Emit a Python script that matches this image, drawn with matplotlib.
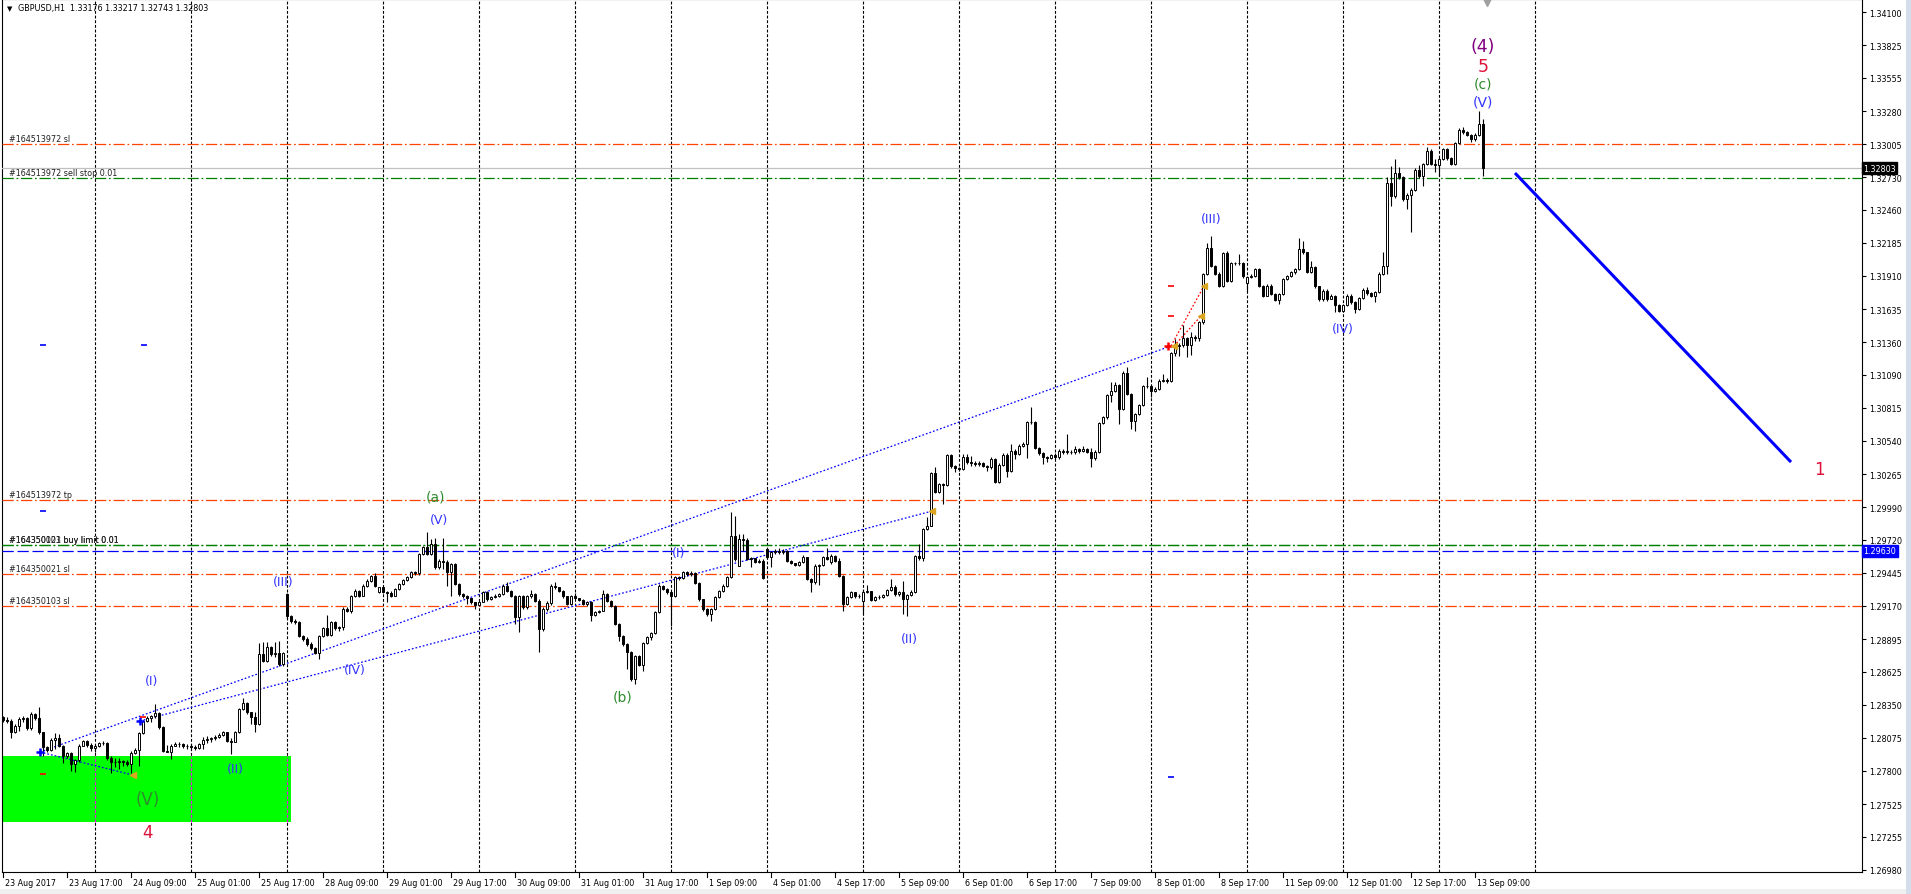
import numpy as np
import pandas as pd
import matplotlib
matplotlib.use("Agg")
import matplotlib.pyplot as plt
import matplotlib.transforms as mtransforms
from matplotlib.patches import Rectangle

# GBPUSD H1 bars, 23 Aug 2017 01:00 .. 13 Sep 2017 10:00
closes = [
    1.28226, 1.28217, 1.28121, 1.28170, 1.28231, 1.28237, 1.28154, 1.28276, 1.28237, 1.28121,
    1.27996, 1.27976, 1.28060, 1.28071, 1.28010, 1.27927, 1.27949, 1.27858, 1.27888, 1.28010,
    1.28051, 1.28016, 1.27988, 1.28004, 1.28029, 1.28032, 1.27905, 1.27872, 1.27877, 1.27883,
    1.27872, 1.27861, 1.27949, 1.27976, 1.28115, 1.28212, 1.28237, 1.28253, 1.28278, 1.28162,
    1.27968, 1.27960, 1.28010, 1.28024, 1.28021, 1.28010, 1.28004, 1.27999, 1.27993, 1.28021,
    1.28057, 1.28065, 1.28071, 1.28079, 1.28101, 1.28121, 1.28051, 1.28043, 1.28121, 1.28314,
    1.28361, 1.28287, 1.28245, 1.28190, 1.28771, 1.28716, 1.28826, 1.28771, 1.28779, 1.28688,
    1.28779, 1.29089, 1.29048, 1.29039, 1.28923, 1.28895, 1.28854, 1.28818, 1.28779, 1.28918,
    1.28984, 1.28929, 1.29039, 1.28984, 1.28992, 1.29144, 1.29131, 1.29250, 1.29294, 1.29255,
    1.29333, 1.29377, 1.29421, 1.29338, 1.29324, 1.29288, 1.29277, 1.29255, 1.29311, 1.29352,
    1.29388, 1.29407, 1.29449, 1.29444, 1.29601, 1.29656, 1.29601, 1.29684, 1.29491, 1.29546,
    1.29538, 1.29449, 1.29518, 1.29352, 1.29269, 1.29250, 1.29233, 1.29200, 1.29178, 1.29205,
    1.29283, 1.29227, 1.29244, 1.29255, 1.29269, 1.29338, 1.29297, 1.29255, 1.29075, 1.29255,
    1.29158, 1.29255, 1.29269, 1.29214, 1.28978, 1.29144, 1.29194, 1.29338, 1.29324, 1.29297,
    1.29250, 1.29186, 1.29255, 1.29233, 1.29222, 1.29186, 1.29200, 1.29095, 1.29117, 1.29131,
    1.29269, 1.29214, 1.29172, 1.29020, 1.28923, 1.28854, 1.28790, 1.28563, 1.28751, 1.28680,
    1.28862, 1.28909, 1.28945, 1.29117, 1.29338, 1.29311, 1.29283, 1.29255, 1.29407, 1.29399,
    1.29449, 1.29435, 1.29444, 1.29360, 1.29227, 1.29144, 1.29103, 1.29144, 1.29241, 1.29297,
    1.29338, 1.29407, 1.29748, 1.29560, 1.29726, 1.29720, 1.29560, 1.29565, 1.29538, 1.29546,
    1.29399, 1.29574, 1.29615, 1.29629, 1.29615, 1.29629, 1.29546, 1.29526, 1.29513, 1.29532,
    1.29574, 1.29394, 1.29366, 1.29504, 1.29510, 1.29574, 1.29560, 1.29582, 1.29546, 1.29421,
    1.29186, 1.29241, 1.29283, 1.29250, 1.29255, 1.29288, 1.29291, 1.29222, 1.29241, 1.29247,
    1.29261, 1.29302, 1.29324, 1.29269, 1.29283, 1.29227, 1.29261, 1.29288, 1.29582, 1.29565,
    1.29809, 1.29836, 1.30274, 1.30119, 1.30182, 1.30177, 1.30423, 1.30329, 1.30313, 1.30307,
    1.30404, 1.30362, 1.30357, 1.30349, 1.30357, 1.30335, 1.30321, 1.30390, 1.30196, 1.30340,
    1.30423, 1.30293, 1.30459, 1.30432, 1.30501, 1.30515, 1.30700, 1.30695, 1.30479, 1.30440,
    1.30404, 1.30398, 1.30423, 1.30404, 1.30459, 1.30451, 1.30451, 1.30445, 1.30473, 1.30459,
    1.30473, 1.30451, 1.30396, 1.30451, 1.30689, 1.30736, 1.30921, 1.30957, 1.31005, 1.30805,
    1.31104, 1.30930, 1.30708, 1.30764, 1.30838, 1.30993, 1.30999, 1.30957, 1.30971, 1.31041,
    1.31049, 1.31041, 1.31270, 1.31326, 1.31337, 1.31392, 1.31337, 1.31400, 1.31395, 1.31525,
    1.31926, 1.32139, 1.31996, 1.31926, 1.31829, 1.32101, 1.31871, 1.32018, 1.32018, 1.32018,
    1.31907, 1.31899, 1.31913, 1.31968, 1.31829, 1.31746, 1.31829, 1.31760, 1.31713, 1.31760,
    1.31885, 1.31907, 1.31940, 1.31968, 1.32134, 1.32106, 1.31946, 1.31982, 1.31824, 1.31719,
    1.31788, 1.31719, 1.31741, 1.31669, 1.31622, 1.31669, 1.31746, 1.31691, 1.31636, 1.31724,
    1.31796, 1.31769, 1.31746, 1.31774, 1.31926, 1.31990, 1.32682, 1.32577, 1.32765, 1.32729,
    1.32549, 1.32582, 1.32627, 1.32793, 1.32737, 1.32840, 1.32950, 1.32840, 1.32831, 1.32881,
    1.32964, 1.32887, 1.32840, 1.33014, 1.33125, 1.33103, 1.33080, 1.33047, 1.33080, 1.33176,
    1.32803,
]
highs = [
    1.28259, 1.28245, 1.28231, 1.28190, 1.28245, 1.28253, 1.28245, 1.28287, 1.28281, 1.28328,
    1.28126, 1.28010, 1.28071, 1.28115, 1.28107, 1.28016, 1.27960, 1.27955, 1.27899, 1.28021,
    1.28060, 1.28060, 1.28032, 1.28021, 1.28043, 1.28051, 1.28043, 1.27921, 1.27905, 1.27905,
    1.27894, 1.27894, 1.27968, 1.27988, 1.28126, 1.28226, 1.28253, 1.28265, 1.28356, 1.28287,
    1.28170, 1.28016, 1.28024, 1.28043, 1.28043, 1.28032, 1.28021, 1.28021, 1.28016, 1.28032,
    1.28079, 1.28087, 1.28084, 1.28098, 1.28115, 1.28134, 1.28126, 1.28071, 1.28134, 1.28325,
    1.28403, 1.28370, 1.28292, 1.28292, 1.28862, 1.28868, 1.28868, 1.28840, 1.28873, 1.28881,
    1.28790, 1.29277, 1.29095, 1.29061, 1.29048, 1.28929, 1.28909, 1.28868, 1.28826, 1.28929,
    1.28992, 1.29095, 1.29048, 1.29048, 1.29006, 1.29158, 1.29158, 1.29261, 1.29311, 1.29305,
    1.29352, 1.29394, 1.29427, 1.29440, 1.29330, 1.29330, 1.29295, 1.29295, 1.29316, 1.29360,
    1.29395, 1.29420, 1.29460, 1.29460, 1.29610, 1.29665, 1.29781, 1.29726, 1.29731, 1.29560,
    1.29731, 1.29550, 1.29530, 1.29530, 1.29360, 1.29275, 1.29260, 1.29240, 1.29205, 1.29215,
    1.29295, 1.29295, 1.29255, 1.29270, 1.29280, 1.29350, 1.29366, 1.29300, 1.29260, 1.29265,
    1.29265, 1.29265, 1.29300, 1.29280, 1.29225, 1.29160, 1.29210, 1.29352, 1.29366, 1.29330,
    1.29300, 1.29255, 1.29265, 1.29280, 1.29240, 1.29230, 1.29215, 1.29210, 1.29125, 1.29140,
    1.29305, 1.29275, 1.29220, 1.29175, 1.29025, 1.28930, 1.28860, 1.28795, 1.28760, 1.28760,
    1.28870, 1.28920, 1.28955, 1.29130, 1.29350, 1.29345, 1.29316, 1.29290, 1.29420, 1.29415,
    1.29463, 1.29460, 1.29460, 1.29455, 1.29365, 1.29230, 1.29150, 1.29155, 1.29250, 1.29305,
    1.29350, 1.29420, 1.29947, 1.29914, 1.29767, 1.29767, 1.29731, 1.29575, 1.29570, 1.29560,
    1.29560, 1.29655, 1.29625, 1.29645, 1.29650, 1.29640, 1.29635, 1.29550, 1.29530, 1.29540,
    1.29590, 1.29580, 1.29400, 1.29518, 1.29520, 1.29585, 1.29648, 1.29600, 1.29590, 1.29570,
    1.29425, 1.29250, 1.29295, 1.29290, 1.29270, 1.29300, 1.29344, 1.29295, 1.29255, 1.29260,
    1.29270, 1.29315, 1.29394, 1.29340, 1.29295, 1.29380, 1.29270, 1.29300, 1.29595, 1.29684,
    1.29820, 1.29906, 1.30285, 1.30321, 1.30195, 1.30195, 1.30432, 1.30432, 1.30340, 1.30325,
    1.30432, 1.30432, 1.30412, 1.30375, 1.30375, 1.30365, 1.30340, 1.30405, 1.30400, 1.30355,
    1.30440, 1.30440, 1.30515, 1.30470, 1.30515, 1.30530, 1.30710, 1.30819, 1.30710, 1.30490,
    1.30450, 1.30415, 1.30435, 1.30440, 1.30470, 1.30470, 1.30598, 1.30465, 1.30501, 1.30480,
    1.30495, 1.30485, 1.30480, 1.30465, 1.30700, 1.30745, 1.30932, 1.31032, 1.31032, 1.31015,
    1.31124, 1.31151, 1.30935, 1.30775, 1.30850, 1.31005, 1.31068, 1.31005, 1.30985, 1.31055,
    1.31096, 1.31060, 1.31280, 1.31387, 1.31350, 1.31503, 1.31400, 1.31442, 1.31420, 1.31535,
    1.31935, 1.32184, 1.32245, 1.32000, 1.31940, 1.32112, 1.32115, 1.32030, 1.32030, 1.32093,
    1.32030, 1.31910, 1.31925, 1.31980, 1.31980, 1.31835, 1.31840, 1.31840, 1.31770, 1.31770,
    1.31895, 1.31920, 1.31950, 1.31980, 1.32222, 1.32203, 1.32110, 1.32037, 1.31995, 1.31830,
    1.31800, 1.31800, 1.31760, 1.31750, 1.31675, 1.31680, 1.31760, 1.31760, 1.31700, 1.31735,
    1.31810, 1.31816, 1.31775, 1.31785, 1.31940, 1.32106, 1.32729, 1.32826, 1.32881, 1.32812,
    1.32740, 1.32595, 1.32640, 1.32805, 1.32831, 1.32850, 1.32978, 1.32965, 1.32881, 1.32895,
    1.32975, 1.32975, 1.32895, 1.33025, 1.33135, 1.33144, 1.33110, 1.33085, 1.33095, 1.33283,
    1.33217,
]
lows = [
    1.28204, 1.28198, 1.28071, 1.28115, 1.28134, 1.28204, 1.28143, 1.28143, 1.28226, 1.28107,
    1.27927, 1.27955, 1.27968, 1.27982, 1.27996, 1.27866, 1.27905, 1.27802, 1.27794, 1.27872,
    1.28004, 1.28001, 1.27968, 1.27960, 1.27996, 1.28016, 1.27894, 1.27783, 1.27830, 1.27816,
    1.27844, 1.27844, 1.27783, 1.27940, 1.27838, 1.28107, 1.28204, 1.28209, 1.28237, 1.28148,
    1.27955, 1.27955, 1.27899, 1.28004, 1.27999, 1.27988, 1.27982, 1.27982, 1.27976, 1.27982,
    1.27982, 1.28032, 1.28043, 1.28060, 1.28071, 1.28093, 1.28043, 1.27940, 1.28038, 1.28115,
    1.28309, 1.28273, 1.28190, 1.28121, 1.28181, 1.28707, 1.28707, 1.28757, 1.28743, 1.28674,
    1.28668, 1.29061, 1.29028, 1.29020, 1.28909, 1.28882, 1.28840, 1.28807, 1.28771, 1.28729,
    1.28909, 1.28923, 1.28923, 1.28973, 1.28965, 1.28973, 1.29117, 1.29111, 1.29241, 1.29241,
    1.29250, 1.29324, 1.29366, 1.29324, 1.29280, 1.29280, 1.29200, 1.29245, 1.29250, 1.29305,
    1.29345, 1.29380, 1.29400, 1.29430, 1.29430, 1.29595, 1.29590, 1.29595, 1.29480, 1.29480,
    1.29477, 1.29338, 1.29250, 1.29340, 1.29255, 1.29240, 1.29186, 1.29190, 1.29144, 1.29170,
    1.29200, 1.29215, 1.29220, 1.29235, 1.29245, 1.29260, 1.29285, 1.29245, 1.29020, 1.28956,
    1.29145, 1.29145, 1.29240, 1.29200, 1.28785, 1.28960, 1.29130, 1.29180, 1.29315, 1.29285,
    1.29240, 1.29175, 1.29180, 1.29225, 1.29210, 1.29175, 1.29170, 1.29048, 1.29090, 1.29110,
    1.29125, 1.29200, 1.29160, 1.29010, 1.28882, 1.28840, 1.28646, 1.28550, 1.28522, 1.28670,
    1.28632, 1.28855, 1.28890, 1.28940, 1.29110, 1.29300, 1.29270, 1.29006, 1.29245, 1.29385,
    1.29395, 1.29420, 1.29420, 1.29350, 1.29215, 1.29130, 1.29090, 1.29048, 1.29135, 1.29235,
    1.29290, 1.29325, 1.29400, 1.29545, 1.29504, 1.29629, 1.29554, 1.29491, 1.29530, 1.29530,
    1.29390, 1.29560, 1.29491, 1.29605, 1.29605, 1.29600, 1.29535, 1.29515, 1.29500, 1.29505,
    1.29525, 1.29385, 1.29288, 1.29355, 1.29344, 1.29500, 1.29550, 1.29520, 1.29535, 1.29410,
    1.29131, 1.29175, 1.29235, 1.29235, 1.29240, 1.29103, 1.29275, 1.29210, 1.29215, 1.29230,
    1.29235, 1.29255, 1.29295, 1.29255, 1.29255, 1.29103, 1.29089, 1.29255, 1.29280, 1.29555,
    1.29546, 1.29800, 1.29830, 1.30105, 1.30110, 1.30016, 1.30170, 1.30315, 1.30279, 1.30290,
    1.30300, 1.30350, 1.30329, 1.30335, 1.30330, 1.30320, 1.30293, 1.30310, 1.30191, 1.30190,
    1.30330, 1.30238, 1.30280, 1.30390, 1.30420, 1.30490, 1.30396, 1.30680, 1.30470, 1.30425,
    1.30349, 1.30362, 1.30390, 1.30390, 1.30390, 1.30435, 1.30435, 1.30430, 1.30435, 1.30440,
    1.30445, 1.30440, 1.30321, 1.30385, 1.30440, 1.30680, 1.30720, 1.30861, 1.30950, 1.30681,
    1.30795, 1.30920, 1.30639, 1.30625, 1.30755, 1.30830, 1.30980, 1.30902, 1.30950, 1.30960,
    1.31030, 1.31020, 1.31030, 1.31248, 1.31248, 1.31320, 1.31234, 1.31254, 1.31370, 1.31373,
    1.31515, 1.31915, 1.31985, 1.31915, 1.31816, 1.31820, 1.31860, 1.31860, 1.32005, 1.32005,
    1.31895, 1.31788, 1.31890, 1.31905, 1.31815, 1.31735, 1.31740, 1.31750, 1.31700, 1.31677,
    1.31750, 1.31880, 1.31900, 1.31930, 1.31960, 1.32090, 1.31935, 1.31935, 1.31810, 1.31705,
    1.31705, 1.31705, 1.31715, 1.31614, 1.31610, 1.31610, 1.31660, 1.31680, 1.31603, 1.31625,
    1.31715, 1.31755, 1.31735, 1.31697, 1.31765, 1.31915, 1.31926, 1.32494, 1.32560, 1.32715,
    1.32535, 1.32466, 1.32278, 1.32615, 1.32725, 1.32660, 1.32830, 1.32830, 1.32771, 1.32743,
    1.32870, 1.32875, 1.32830, 1.32830, 1.33005, 1.33090, 1.33070, 1.33020, 1.33033, 1.33070,
    1.32743,
]
# bars whose open is not the previous close (weekend / gaps)
gap_opens = {0: 1.28245, 71: 1.29269, 94: 1.29290, 184: 1.29504, 191: 1.29643,
             207: 1.29532, 215: 1.29214, 311: 1.31852}

price_ticks = [1.34100, 1.33825, 1.33555, 1.33280, 1.33005, 1.32730, 1.32460, 1.32185,
               1.31910, 1.31635, 1.31360, 1.31090, 1.30815, 1.30540, 1.30265, 1.29990,
               1.29720, 1.29445, 1.29170, 1.28895, 1.28625, 1.28350, 1.28075, 1.27800,
               1.27525, 1.27255, 1.26980]

# order lines: price, colour, label
order_lines = [
    (1.33005, "#FF4500", "#164513972 sl"),
    (1.32720, "#008000", "#164513972 sell stop 0.01"),
    (1.30050, "#FF4500", "#164513972 tp"),
    (1.29680, "#008000", "#164350021 buy limit 0.01"),
    (1.29680, "#008000", "#164350103 buy limit 0.01"),
    (1.29435, "#FF4500", "#164350021 sl"),
    (1.29170, "#FF4500", "#164350103 sl"),
]
hline_blue = 1.29630
bid = 1.32803

# elliott wave labels: bar, price, text, colour, size
wave_labels = [
    (370, 1.33820, "(4)", "#800080", 12.5),
    (370, 1.33654, "5", "#DC143C", 12.5),
    (370, 1.33512, "(c)", "#2E8B2E", 10),
    (370, 1.33355, "(V)", "#3333FF", 10),
    (454.2, 1.30307, "1", "#DC143C", 12),
    (108, 1.30075, "(a)", "#2E8B2E", 10),
    (109, 1.29884, "(V)", "#3333FF", 9),
    (155, 1.28422, "(b)", "#2E8B2E", 10),
    (169, 1.29618, "(I)", "#3333FF", 9),
    (226.7, 1.28900, "(II)", "#3333FF", 9),
    (58, 1.27824, "(II)", "#3333FF", 9),
    (37.2, 1.28547, "(I)", "#3333FF", 9),
    (70, 1.29377, "(III)", "#3333FF", 9),
    (88, 1.28646, "(IV)", "#3333FF", 9),
    (302, 1.32391, "(III)", "#3333FF", 9),
    (335, 1.31470, "(IV)", "#3333FF", 9),
    (36.2, 1.27567, "(V)", "#2E8B2E", 12),
    (36.0, 1.27293, "4", "#DC143C", 12),
]

# trade history: open bar, open price, close bar, close price, colour
trades = [
    (9.25, 1.27957, 292.0, 1.31329, "blue"),
    (34.25, 1.28215, 232.25, 1.29958, "blue"),
    (9.25, 1.27957, 32.5, 1.27766, "blue"),
    (292.0, 1.31329, 300.25, 1.31827, "red"),
    (292.75, 1.31329, 299.5, 1.31578, "red"),
]
close_marks_x = [32.5, 232.25, 292.75, 300.25, 299.5]
close_marks_y = [1.27766, 1.29958, 1.31329, 1.31827, 1.31578]
dash_marks = [(10, 1.31340, "blue"), (35.3, 1.31340, "blue"), (10, 1.29960, "blue"),
              (292, 1.27750, "blue"), (10, 1.27775, "red"), (292, 1.31825, "red"),
              (292, 1.31578, "red"), (35, 1.28245, "red")]

trend_x = [378, 447]
trend_y = [1.32765, 1.30365]

box_x0, box_x1 = -0.25, 72.0
box_y0, box_y1 = 1.27376, 1.27924

W, H = 1911, 895
fig = plt.figure(figsize=(W / 100, H / 100), dpi=100)
fig.patch.set_facecolor("white")
ax = fig.add_axes([2 / W, 22 / H, 1860 / W, 873 / H])
ax.set_xlim(-0.25, 464.75)
ax.set_ylim(1.26961, 1.34210)
for s in ax.spines.values():
    s.set_color("black")
    s.set_linewidth(0.8)

# time axis of the bars (no weekends), extended into the empty right margin
times = pd.date_range("2017-08-23 01:00", "2017-09-20 23:00", freq="h")
times = times[times.dayofweek < 5][:466]
n = len(closes)
idx = np.arange(n)

# day separators
day_starts = [i for i in range(400) if times[i].hour == 0]
ax.vlines(day_starts, 1.26961, 1.34210, colors="black", linestyles=(0, (2.6, 1.6)),
          linewidth=0.8, zorder=1)
ax.add_patch(Rectangle((box_x0, box_y0), box_x1 - box_x0, box_y1 - box_y0,
                       facecolor="#00FF00", edgecolor="none", zorder=2))
inside = [d for d in day_starts if d < box_x1]
ax.vlines(inside, box_y0, box_y1, colors="#FF00FF", linestyles=(0, (2.6, 1.6)),
          linewidth=0.8, zorder=2.5)

# horizontal order lines
for price, col, lab in order_lines:
    ax.axhline(price, color=col, linewidth=0.9, dashes=(9, 2.2, 1.4, 2.2), zorder=3)
    ax.text(1.5, price + 0.00025, lab, fontsize=5.8, color="#202020",
            va="baseline", ha="left", zorder=6)
ax.axhline(hline_blue, color="#0000FF", linewidth=0.9, dashes=(9, 3), zorder=3)
ax.axhline(bid, color="#C0C0C0", linewidth=0.9, zorder=3)

# trade history lines
for x0, y0, x1, y1, col in trades:
    ax.plot([x0, x1], [y0, y1], color=col, linewidth=0.9, dashes=(1.4, 1.6), zorder=3)
ax.plot([9.25, 34.25], [1.27957, 1.28215], linestyle="none", marker="+",
        color="blue", markersize=6, markeredgewidth=1.8, zorder=7)
ax.plot([291.3], [1.31329], linestyle="none", marker="+", color="red",
        markersize=6, markeredgewidth=1.8, zorder=7)
ax.plot(close_marks_x, close_marks_y, linestyle="none", marker="<", color="#DAA520",
        markersize=4.5, zorder=7)
for x, y, col in dash_marks:
    ax.plot([x], [y], linestyle="none", marker="_", color=col, markersize=5,
            markeredgewidth=1.2, zorder=7)

# candles
c = np.array(closes)
hi = np.array(highs)
lo = np.array(lows)
o = np.r_[c[0], c[:-1]]
for k, v in gap_opens.items():
    o[k] = v
top = np.maximum(np.maximum(o, c), hi)
bot = np.minimum(np.minimum(o, c), lo)
ax.vlines(idx, bot, top, colors="black", linewidth=0.8, zorder=4)
up = c >= o
body = np.maximum(np.abs(c - o), 0.00002)
ax.bar(idx[up], body[up], bottom=np.minimum(o, c)[up], width=0.55, color="white",
       edgecolor="black", linewidth=0.7, zorder=5)
ax.bar(idx[~up], body[~up], bottom=np.minimum(o, c)[~up], width=0.55, color="black",
       edgecolor="black", linewidth=0.7, zorder=5)

# trend projection
ax.plot(trend_x, trend_y, color="#0000FF", linewidth=2.2, solid_capstyle="butt", zorder=6)

# wave labels
for x, y, t, col, fs in wave_labels:
    ax.text(x, y, t, color=col, fontsize=fs, ha="center", va="center", zorder=8)

# right price scale
ax.yaxis.tick_right()
ax.set_yticks(price_ticks)
ax.set_yticklabels(["%.5f" % p for p in price_ticks])
ax.tick_params(axis="y", length=3, width=0.8, pad=2, labelsize=5.8, colors="black")
ax.set_xticks([])

ytrans = mtransforms.blended_transform_factory(ax.transAxes, ax.transData)
ax.text(1.0007, bid, "%.5f" % bid, transform=ytrans, fontsize=5.8, color="white",
        va="center", ha="left", zorder=9, clip_on=False,
        bbox=dict(boxstyle="square,pad=0.18", fc="black", ec="black"))
ax.text(1.0007, hline_blue, "%.5f" % hline_blue, transform=ytrans, fontsize=5.8,
        color="white", va="center", ha="left", zorder=9, clip_on=False,
        bbox=dict(boxstyle="square,pad=0.18", fc="#0000FF", ec="#0000FF"))

# time scale
xtrans = mtransforms.blended_transform_factory(ax.transData, ax.transAxes)
for i in range(0, n, 16):
    t = times[i]
    lab = t.strftime("%d %b %Y") if i == 0 else t.strftime("%d %b %H:%M")
    lab = lab.lstrip("0")
    ax.plot([i, i], [0, -0.006], color="black", linewidth=0.8, transform=xtrans,
            clip_on=False)
    ax.text(i + 0.5, -0.0115, lab, transform=xtrans, fontsize=5.8, ha="left",
            va="center", clip_on=False)

# header and shift marker
fig.text(7 / W, 1 - 9 / H, "\u25bc", fontsize=5, va="center", ha="left")
fig.text(18 / W, 1 - 9 / H, "GBPUSD,H1  1.33176 1.33217 1.32743 1.32803",
         fontsize=5.8, va="center", ha="left")
ax.plot([371], [0.996], marker="v", color="#A0A0A0", markersize=6,
        transform=xtrans, clip_on=False, zorder=9)

# window edges
fig.patches.append(Rectangle((1906 / W, 0), 5 / W, 1, transform=fig.transFigure,
                             facecolor="#D4DEEA", edgecolor="none"))
fig.patches.append(Rectangle((0, 0), 1906 / W, 5 / H, transform=fig.transFigure,
                             facecolor="#F0F0F0", edgecolor="none"))

fig.savefig("out.png", dpi=100)
